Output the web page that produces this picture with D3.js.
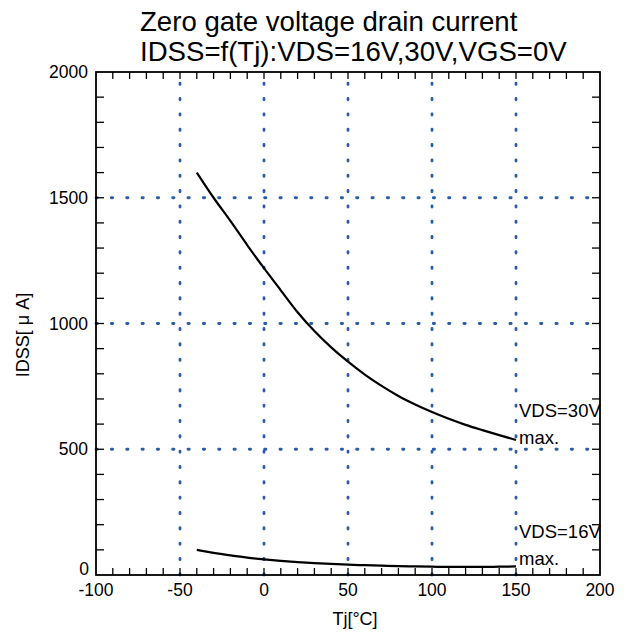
<!DOCTYPE html>
<html>
<head>
<meta charset="utf-8">
<script src="https://cdn.jsdelivr.net/npm/d3@7"></script>
<style>
  html, body { margin: 0; padding: 0; background: #fff; }
  svg { display: block; }
  text { font-family: "Liberation Sans", Arial, sans-serif; fill: #000; }
</style>
</head>
<body>
<svg id="chart" width="627" height="639"></svg>
<script>
// ---- data ----
const titleLines = ["Zero gate voltage drain current", "IDSS=f(Tj):VDS=16V,30V,VGS=0V"];
const xLabel = "Tj[°C]";
const yLabel = "IDSS[ μ A]";
const xDomain = [-100, 200];
const yDomain = [0, 2000];
const xTickLabels = [-100, -50, 0, 50, 100, 150, 200];
const yTickLabels = [0, 500, 1000, 1500, 2000];
const xGrid = [-50, 0, 50, 100, 150];
const yGrid = [500, 1000, 1500];
const xMinorStep = 10;
const yMinorStep = 100;

const tj = [-40, -30, -20, -10, 0, 10, 20, 30, 40, 50, 60, 70, 80, 90, 100, 110, 120, 130, 140, 150];
const idss30 = [1600, 1500, 1408, 1312, 1220, 1132, 1045, 970, 905, 848, 797, 752, 712, 678, 648, 621, 597, 576, 556, 537];
const idss16 = [100, 88, 78, 69, 62, 56, 51, 47, 44, 41, 39, 37, 35, 34, 33, 32, 32, 32, 33, 34];
// label anchor: Tj and IDSS value of the first text line's baseline
const annotations = [
  { x: 150, y: 628, lines: ["VDS=30V", "max."] },
  { x: 150, y: 147, lines: ["VDS=16V", "max."] }
];

// ---- layout ----
const svg = d3.select("#chart");
const L = 96, R = 600, T = 72, B = 575;
const x = d3.scaleLinear().domain(xDomain).range([L, R]);
const y = d3.scaleLinear().domain(yDomain).range([B, T]);
const gridColor = "#2a5caa";

// grid (dotted)
const g = svg.append("g");
g.selectAll("line.vg").data(xGrid).enter().append("line")
  .attr("x1", d => x(d)).attr("x2", d => x(d))
  .attr("y1", B).attr("y2", T)
  .attr("stroke", gridColor).attr("stroke-width", 2.8)
  .attr("stroke-linecap", "round")
  .attr("stroke-dasharray", "1.3,14.03");
g.selectAll("line.hg").data(yGrid).enter().append("line")
  .attr("x1", L).attr("x2", R)
  .attr("y1", d => y(d)).attr("y2", d => y(d))
  .attr("stroke", gridColor).attr("stroke-width", 2.8)
  .attr("stroke-linecap", "round")
  .attr("stroke-dasharray", "1.3,14.03");

// minor ticks on all four sides (inward)
const xTicks = d3.range(xDomain[0] + xMinorStep, xDomain[1], xMinorStep);
const yTicks = d3.range(yDomain[0] + yMinorStep, yDomain[1], yMinorStep);
const tk = svg.append("g").attr("stroke", "#000").attr("stroke-width", 1.3);
const xtLen = 7, ytLen = 8;
tk.selectAll("line.xb").data(xTicks).enter().append("line")
  .attr("x1", d => x(d)).attr("x2", d => x(d)).attr("y1", B).attr("y2", B - xtLen);
tk.selectAll("line.xt").data(xTicks).enter().append("line")
  .attr("x1", d => x(d)).attr("x2", d => x(d)).attr("y1", T).attr("y2", T + xtLen);
tk.selectAll("line.yl").data(yTicks).enter().append("line")
  .attr("y1", d => y(d)).attr("y2", d => y(d)).attr("x1", L).attr("x2", L + ytLen);
tk.selectAll("line.yr").data(yTicks).enter().append("line")
  .attr("y1", d => y(d)).attr("y2", d => y(d)).attr("x1", R).attr("x2", R - ytLen);

// frame
svg.append("rect").attr("x", L).attr("y", T).attr("width", R - L).attr("height", B - T)
  .attr("fill", "none").attr("stroke", "#000").attr("stroke-width", 1.8);

// curves
const line = d3.line().x(d => x(d[0])).y(d => y(d[1])).curve(d3.curveMonotoneX);
[idss30, idss16].forEach(series => {
  svg.append("path")
    .datum(tj.map((t, i) => [t, series[i]]))
    .attr("d", line)
    .attr("fill", "none").attr("stroke", "#000").attr("stroke-width", 2.2);
});

// tick labels
svg.selectAll("text.xl").data(xTickLabels).enter().append("text")
  .attr("x", d => x(d)).attr("y", 596)
  .attr("text-anchor", "middle").attr("font-size", 17.5)
  .text(d => d);
svg.selectAll("text.yl").data(yTickLabels).enter().append("text")
  .attr("x", d => d === 0 ? 89 : 88).attr("y", d => y(d) + (d === 0 ? 0 : 6))
  .attr("text-anchor", "end").attr("font-size", 17.5)
  .text(d => d);

// annotations
annotations.forEach(a => {
  const t = svg.append("text").attr("font-size", 18.5);
  a.lines.forEach((ln, i) => {
    t.append("tspan").attr("x", x(a.x) + 3).attr("y", y(a.y) + i * 26.5).text(ln);
  });
});

// titles
titleLines.forEach((ln, i) => {
  svg.append("text").attr("x", 140).attr("y", 31 + i * 30)
    .attr("font-size", 27.6).text(ln);
});

// axis titles
svg.append("text").attr("x", 355).attr("y", 625)
  .attr("text-anchor", "middle").attr("font-size", 18).text(xLabel);
svg.append("text")
  .attr("transform", "translate(28.5,335) rotate(-90)")
  .attr("text-anchor", "middle").attr("font-size", 18).text(yLabel);
</script>
</body>
</html>
